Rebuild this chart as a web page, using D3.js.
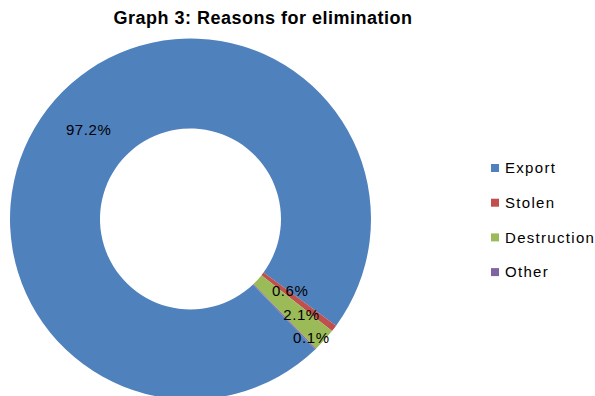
<!DOCTYPE html>
<html>
<head>
<meta charset="utf-8">
<script src="https://cdnjs.cloudflare.com/ajax/libs/d3/7.8.5/d3.min.js"></script>
<style>
  body { margin: 0; background: #fff; }
  svg { display: block; font-family: "Liberation Sans", Arial, sans-serif; }
</style>
</head>
<body>
<svg width="595" height="396"></svg>
<script>
var categories = ["Export", "Stolen", "Destruction", "Other"],
    values = [97.2, 0.6, 2.1, 0.1],
    labels = ["97.2%", "0.6%", "2.1%", "0.1%"],
    colors = ["#4F81BD", "#C0504D", "#9BBB59", "#8064A2"];

var svg = d3.select("svg"),
    cx = 190.5,
    cy = 219,
    outerR = 180.5,
    innerR = 90.5,
    startDeg = 136.3;

var toRad = Math.PI / 180;

// title
svg.append("text")
    .attr("x", 263)
    .attr("y", 24)
    .attr("text-anchor", "middle")
    .style("font-weight", "bold")
    .style("font-size", "18px")
    .style("letter-spacing", "0.5px")
    .style("fill", "#000")
    .text("Graph 3: Reasons for elimination");

var pie = d3.pie()
    .sort(null)
    .value(function(d) { return d; })
    .startAngle(startDeg * toRad)
    .endAngle(startDeg * toRad + 2 * Math.PI);

var arc = d3.arc()
    .innerRadius(innerR)
    .outerRadius(outerR);

var arcs = pie(values);

var g = svg.append("g")
    .attr("transform", "translate(" + cx + "," + cy + ")");

g.selectAll("path.slice")
    .data(arcs)
    .enter().append("path")
    .attr("class", "slice")
    .attr("d", arc)
    .attr("fill", function(d, i) { return colors[i]; })
    .attr("stroke", "none");

// data labels: big slice in the middle of the ring, small slices pushed outward one after another
var small = 0;
g.selectAll("text.lbl")
    .data(arcs)
    .enter().append("text")
    .attr("class", "lbl")
    .attr("transform", function(d, i) {
        var r = (innerR + outerR) / 2,
            a = (d.startAngle + d.endAngle) / 2;
        if (d.value < 5) {
            r = innerR + (outerR - innerR) * (0.36 + 0.26 * small);
            a -= 1.5 * toRad;
            small++;
        }
        var la = d3.arc().innerRadius(r).outerRadius(r);
        var c = la.centroid({ startAngle: a, endAngle: a });
        return "translate(" + c[0] + "," + c[1] + ")";
    })
    .attr("text-anchor", "middle")
    .attr("dy", "0.35em")
    .style("font-size", "15px")
    .style("letter-spacing", "0.6px")
    .style("fill", "#000")
    .text(function(d, i) { return labels[i]; });

// legend
var legend = svg.append("g")
    .attr("transform", "translate(491,168)");

var item = legend.selectAll("g")
    .data(categories)
    .enter().append("g")
    .attr("transform", function(d, i) { return "translate(0," + (i * 34.7) + ")"; });

item.append("rect")
    .attr("x", 0)
    .attr("y", -4)
    .attr("width", 8)
    .attr("height", 8)
    .attr("fill", function(d, i) { return colors[i]; });

item.append("text")
    .attr("x", 14)
    .attr("dy", "0.35em")
    .style("font-size", "15px")
    .style("letter-spacing", "1.3px")
    .style("fill", "#000")
    .text(function(d) { return d; });
</script>
</body>
</html>
